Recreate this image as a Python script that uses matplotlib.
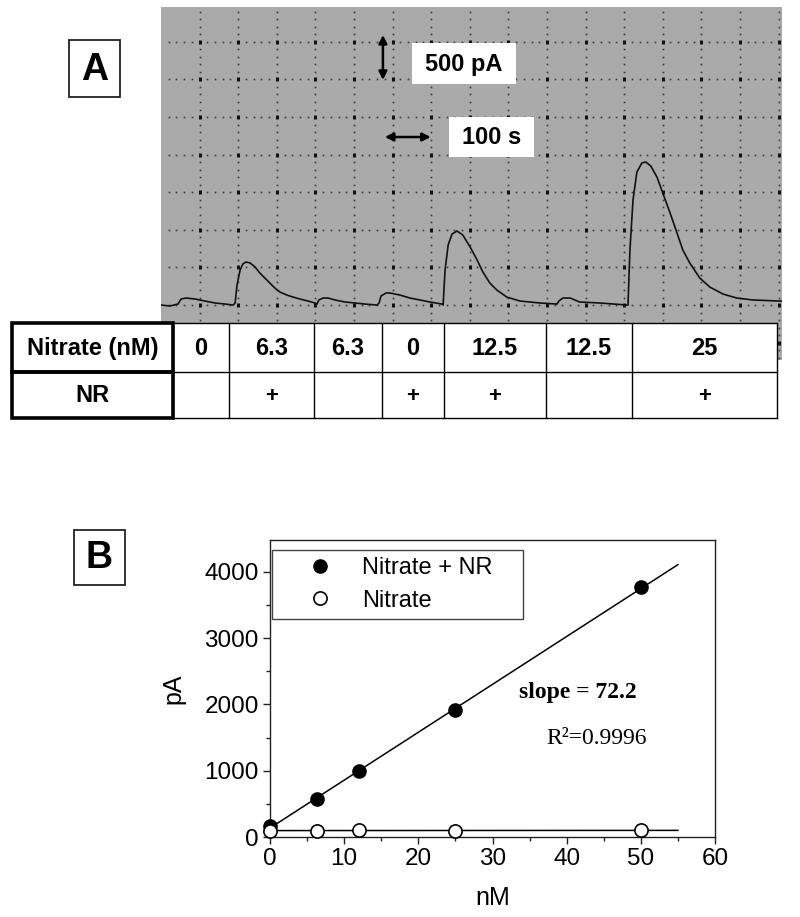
import numpy as np
import matplotlib

matplotlib.use("Agg")
import matplotlib.pyplot as plt  # noqa: E402
from matplotlib.patches import Rectangle  # noqa: E402

plt.rcParams["font.family"] = ["Liberation Sans", "DejaVu Sans"]

# ---------------------------------------------------------------------------
# Data
# ---------------------------------------------------------------------------

# Panel A: recorder trace, time (s) vs current (pA)
trace_t = [0, 23, 44, 52, 65, 88, 114, 140, 166, 187,
           192, 197, 205, 212, 220, 231, 244, 256, 269, 282, 295, 308, 326,
           342, 360, 381, 399, 404, 409, 420, 433, 451, 477, 503, 528, 560,
           565, 570, 583, 593, 619, 645, 671, 697, 728,
           731, 736, 744, 754, 767, 782, 801, 819, 834, 852, 870, 896, 930,
           982, 1026, 1031, 1041, 1060, 1085, 1137, 1207,
           1210, 1215, 1223, 1233, 1246, 1256, 1269, 1285, 1300, 1319, 1337,
           1352, 1370, 1396, 1422, 1456, 1492, 1534, 1604, 1609]
trace_pa = [0, -13, 13, 80, 93, 80, 53, 27, 13, 0,
            27, 266, 466, 545, 572, 559, 505, 426, 359, 293, 226, 173, 133,
            106, 80, 53, 27, 13, 67, 93, 93, 67, 40, 27, 13, 0,
            27, 120, 160, 160, 133, 93, 67, 40, 13,
            0, 466, 798, 944, 984, 931, 771, 599, 439, 293, 200, 106, 53,
            27, 13, 53, 93, 93, 40, 27, 0,
            0, 732, 1397, 1769, 1889, 1902, 1849, 1702, 1490, 1224, 958,
            732, 559, 359, 239, 146, 93, 67, 53, 53]

# Panel A: injection table
row_labels = ["Nitrate (nM)", "NR"]
table_conc = ["0", "6.3", "6.3", "0", "12.5", "12.5", "25"]
table_nr = ["", "+", "", "+", "+", "", "+"]

# Panel B: calibration
conc_nm = [0, 6.3, 12, 25, 50]
pa_nitrate_nr = [170, 580, 990, 1910, 3770]
pa_nitrate = [95, 95, 105, 95, 100]
slope_label = "slope = 72.2"
r2_label = "R\u00b2=0.9996"

# ---------------------------------------------------------------------------
# Figure
# ---------------------------------------------------------------------------

W, H = 800, 917
fig = plt.figure(figsize=(W / 100, H / 100), dpi=100)


def px_axes(x0, y0, x1, y1, **kw):
    """Add axes from a pixel box (top-left origin)."""
    return fig.add_axes([x0 / W, 1 - y1 / H, (x1 - x0) / W, (y1 - y0) / H], **kw)


# --- panel A trace ---------------------------------------------------------
ax_a = px_axes(161, 7, 782, 360)
ax_a.set_facecolor("#aaaaaa")
ax_a.set_xlim(0, 1609)
ax_a.set_ylim(-731, 3963)
ax_a.set_xticks([])
ax_a.set_yticks([])
for sp in ax_a.spines.values():
    sp.set_visible(False)

major_t = np.arange(100, 1601, 100)
major_pa = np.arange(-500, 3501, 500)
minor_t = np.arange(20, 1609, 20)
minor_pa = np.arange(-700, 3901, 100)

gx, gy = np.meshgrid(minor_t, major_pa)
ax_a.plot(gx.ravel(), gy.ravel(), ls="none", marker="s", ms=1.2,
          color="#3a3a3a", mec="none")
gx, gy = np.meshgrid(major_t, minor_pa)
ax_a.plot(gx.ravel(), gy.ravel(), ls="none", marker="s", ms=1.2,
          color="#3a3a3a", mec="none")
gx, gy = np.meshgrid(major_t, major_pa)
ax_a.plot(gx.ravel(), gy.ravel(), ls="none", marker="|", ms=3.2, mew=2.2,
          color="#111111")

ax_a.plot(trace_t, trace_pa, color="#111111", lw=1.2)

# scale bars
arrow = dict(arrowstyle="<|-|>", color="black", lw=1.8, mutation_scale=12,
             shrinkA=0, shrinkB=0)
ax_a.annotate("", xy=(575, 2993), xytext=(575, 3591), arrowprops=arrow)
ax_a.annotate("", xy=(580, 2234), xytext=(699, 2234), arrowprops=arrow)

# --- overlay for labels and the table (pixel coordinates) -----------------
ov = fig.add_axes([0, 0, 1, 1], zorder=10)
ov.set_xlim(0, W)
ov.set_ylim(H, 0)
ov.axis("off")
ov.patch.set_alpha(0)

bold = dict(fontweight="bold", ha="center", va="center")

# scale bar labels
for (x0, y0, x1, y1), txt in [((412, 43, 516, 84), "500 pA"),
                              ((449, 117, 534, 157), "100 s")]:
    ov.add_patch(Rectangle((x0, y0), x1 - x0, y1 - y0, fc="white", ec="none"))
    ov.text((x0 + x1) / 2, (y0 + y1) / 2 + 1, txt, fontsize=17, **bold)

# panel letters
for (x0, y0, x1, y1), txt in [((69, 40, 120, 97), "A"),
                              ((74, 530, 125, 585), "B")]:
    ov.add_patch(Rectangle((x0, y0), x1 - x0, y1 - y0, fc="white",
                           ec="#222222", lw=1.3))
    ov.text((x0 + x1) / 2, (y0 + y1) / 2 + 1, txt, fontsize=27, **bold)

# table
col_edges = [12, 173, 229, 314, 382, 444, 546, 632, 777]
row_edges = [323, 372, 418]
ov.add_patch(Rectangle((col_edges[0], row_edges[0]),
                       col_edges[-1] - col_edges[0],
                       row_edges[-1] - row_edges[0], fc="white", ec="none"))
for x in col_edges[1:]:
    ov.plot([x, x], [row_edges[0], row_edges[-1]], color="black", lw=1.0)
for y in row_edges:
    ov.plot([col_edges[1], col_edges[-1]], [y, y], color="black", lw=1.0)
for i in range(2):
    ov.add_patch(Rectangle((col_edges[0], row_edges[i]),
                           col_edges[1] - col_edges[0],
                           row_edges[i + 1] - row_edges[i],
                           fc="none", ec="black", lw=2.6))

row_mid = [(row_edges[0] + row_edges[1]) / 2, (row_edges[1] + row_edges[2]) / 2]
for i, lab in enumerate(row_labels):
    ov.text((col_edges[0] + col_edges[1]) / 2, row_mid[i] + 1, lab,
            fontsize=17, **bold)
for j, (c, n) in enumerate(zip(table_conc, table_nr)):
    xc = (col_edges[j + 1] + col_edges[j + 2]) / 2
    ov.text(xc, row_mid[0] + 1, c, fontsize=17, **bold)
    if n:
        ov.text(xc, row_mid[1] + 1, n, fontsize=16, **bold)

# --- panel B ---------------------------------------------------------------
ax_b = px_axes(270, 540, 715, 837)
ax_b.set_xlim(0, 60)
ax_b.set_ylim(0, 4483)

ax_b.plot(conc_nm, pa_nitrate_nr, ls="none", marker="o", ms=9.5,
          color="black", clip_on=False, zorder=4, label="Nitrate + NR")
ax_b.plot(conc_nm, pa_nitrate, ls="none", marker="o", ms=9.5, mfc="white",
          mec="black", mew=1.2, clip_on=False, zorder=4, label="Nitrate")

fit_x = np.array([0, 55])
for series in (pa_nitrate_nr, pa_nitrate):
    k, b = np.polyfit(conc_nm, series, 1)
    ax_b.plot(fit_x, k * fit_x + b, color="black", lw=1.1, zorder=3)

ax_b.set_xticks(np.arange(0, 61, 10))
ax_b.set_xticks(np.arange(5, 60, 10), minor=True)
ax_b.set_yticks(np.arange(0, 4001, 1000))
ax_b.set_yticks(np.arange(500, 4001, 1000), minor=True)
ax_b.tick_params(which="both", direction="out", labelsize=17.5,
                 color="#222222", width=1.0, pad=3)
ax_b.tick_params(which="major", length=5)
ax_b.tick_params(which="minor", length=3)
for sp in ax_b.spines.values():
    sp.set_color("#222222")
    sp.set_linewidth(1.0)

ax_b.set_xlabel("nM", fontsize=18)
ax_b.set_ylabel("pA", fontsize=18)
ax_b.xaxis.set_label_coords(0.5, -0.165)
ax_b.yaxis.set_label_coords(-0.19, 0.5)

ax_b.text(41.5, 2174, slope_label, family=["Liberation Serif", "DejaVu Serif"],
          fontweight="bold", fontsize=17, ha="center", va="center")
ax_b.text(44.0, 1494, r2_label, family=["Liberation Serif", "DejaVu Serif"],
          fontsize=17, ha="center", va="center")

leg = ax_b.legend(loc="upper left",
                  bbox_to_anchor=(272 / W, 1 - 624 / H, 251 / W, 74 / H),
                  bbox_transform=fig.transFigure, mode="expand",
                  borderaxespad=0, fontsize=17, numpoints=1,
                  handlelength=3.5, handletextpad=0.0, borderpad=0.3,
                  labelspacing=0.45, fancybox=False, framealpha=1,
                  edgecolor="#444444")
leg.get_frame().set_linewidth(1.0)

fig.savefig("out.png", dpi=100)
